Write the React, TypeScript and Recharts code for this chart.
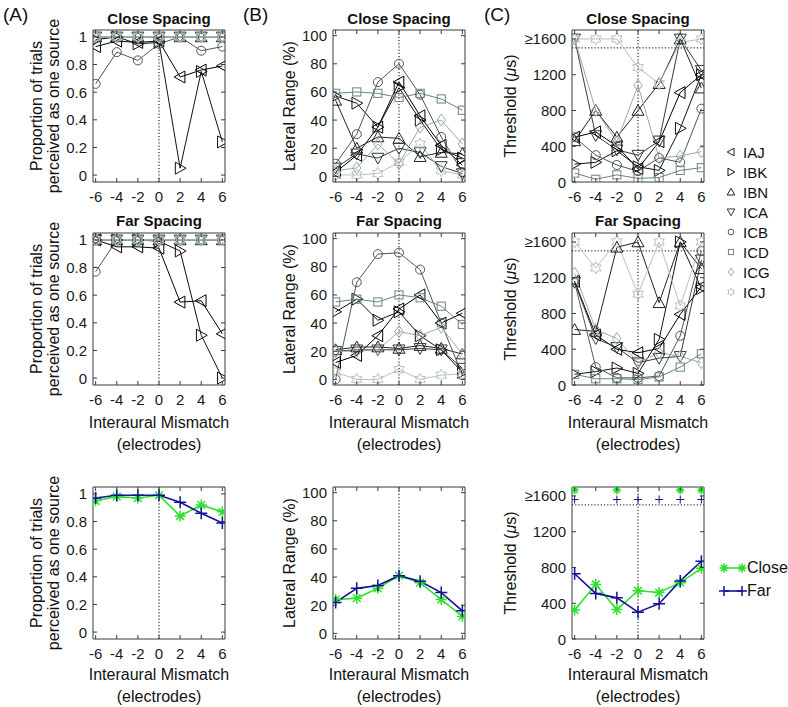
import React from 'react';
import { LineChart, Line, XAxis, YAxis, ReferenceLine } from 'recharts';

const FONT = '"Liberation Sans", Arial, Helvetica, sans-serif';

const mismatch = [-6, -4, -2, 0, 2, 4, 6];
const subjects = ['IAJ', 'IBK', 'IBN', 'ICA', 'ICB', 'ICD', 'ICG', 'ICJ'];
const subjectShapes = ['left', 'right', 'up', 'down', 'circle', 'square', 'diamond', 'hexagram'];
const subjectColors = ['#000000', '#111111', '#222222', '#333a3a', '#4e5656', '#6a8383', '#9ba8a8', '#b5c0c0'];

const propTicks = [0, 0.2, 0.4, 0.6, 0.8, 1];
const propTickLabels = ['0', '0.2', '0.4', '0.6', '0.8', '1'];
const rangeTicks = [0, 20, 40, 60, 80, 100];
const rangeTickLabels = ['0', '20', '40', '60', '80', '100'];
const threshTicks = [0, 400, 800, 1200, 1600];
const threshTickLabels = ['0', '400', '800', '1200', '\u22651600'];

// (A) proportion perceived as one source, per subject (IAJ..ICJ)
const propCloseBySubject = [
  [0.93, 0.97, 0.96, 0.97, 0.71, 0.76, 0.79],
  [0.98, 1, 0.95, 0.96, 0.05, 0.75, 0.24],
  [1, 1, 1, 1, 1, 1, 1],
  [1, 1, 1, 1, 1, 1, 1],
  [0.66, 0.89, 0.83, 0.95, 1, 0.9, 0.93],
  [1, 1, 1, 1, 1, 1, 1],
  [1, 1, 1, 1, 1, 1, 1],
  [1, 1, 1, 1, 1, 1, 1],
];
const propFarBySubject = [
  [1, 0.95, 0.95, 0.94, 0.55, 0.56, 0.32],
  [1, 1, 1, 0.99, 0.92, 0.31, 0.0],
  [1, 1, 1, 1, 1, 1, 1],
  [1, 1, 1, 1, 1, 1, 1],
  [0.77, 1, 1, 1, 1, 1, 1],
  [1, 1, 1, 1, 1, 1, 1],
  [1, 1, 1, 1, 1, 1, 1],
  [1, 1, 1, 1, 1, 1, 1],
];

// (B) lateral range (%)
const rangeCloseBySubject = [
  [3, 15, 35, 67, 43, 22, 8],
  [57, 52, 35, 63, 40, 19, 13],
  [54, 20, 28, 27, 14, 17, 16],
  [6, 16, 13, 20, 17, 7, 2],
  [9, 30, 67, 80, 58, 28, 3],
  [59, 60, 59, 56, 59, 55, 47],
  [4, 6, 23, 9, 35, 40, 23],
  [1, 1, 2, 10, 23, 4, 1],
];
const rangeFarBySubject = [
  [12, 17, 31, 50, 60, 40, 47],
  [48, 57, 42, 48, 31, 21, 5],
  [21, 23, 23, 22, 24, 22, 18],
  [20, 21, 21, 21, 22, 21, 8],
  [0, 69, 89, 90, 78, 40, 3],
  [55, 57, 55, 60, 58, 52, 39],
  [20, 20, 21, 34, 31, 37, 18],
  [5, 0, 0, 7, 0, 3, 4],
];

// (C) threshold (us), values >=1600 drawn at 1600
const threshCloseBySubject = [
  [500, 560, 400, 150, 450, 1000, 1200],
  [200, 220, 350, 170, 130, 600, 1200],
  [460, 800, 500, 800, 1100, 1600, 1050],
  [1600, 520, 360, 300, 460, 1600, 1250],
  [500, 300, 190, 120, 270, 220, 820],
  [100, 30, 80, 40, 50, 130, 160],
  [1600, 800, 450, 1080, 270, 290, 340],
  [1600, 1600, 1600, 1280, 1100, 1560, 1600],
];
const threshFarBySubject = [
  [1160, 560, 400, 360, 410, 790, 1100],
  [120, 150, 190, 130, 510, 1600, 1080],
  [620, 600, 1540, 1600, 920, 1600, 1300],
  [1150, 520, 420, 250, 300, 320, 1400],
  [1150, 200, 80, 80, 100, 550, 1500],
  [120, 70, 70, 60, 90, 200, 350],
  [1250, 620, 520, 250, 360, 320, 250],
  [1600, 1310, 1600, 1017, 1600, 885, 1600],
];

// bottom row: means
const propCloseMean = [0.95, 0.98, 0.97, 0.99, 0.84, 0.92, 0.87];
const propFarMean = [0.97, 0.99, 0.99, 0.99, 0.94, 0.86, 0.79];
const rangeCloseMean = [24, 25, 32, 41, 36, 24, 12];
const rangeFarMean = [22, 32, 34, 41, 37, 29, 16];
const threshCloseMean = [325, 610, 330, 540, 520, 630, 790];
const threshFarMean = [730, 510, 460, 300, 395, 650, 870];
const threshCloseCeil = [1665, null, 1665, null, null, 1665, 1665];
const threshFarCeil = [1560, null, 1560, 1560, 1560, 1560, 1560];

const GREEN = '#2fe02f';
const BLUE = '#12129c';
const BOXC = '#3a3a3a';

const buildRows = (bySubject: number[][]) =>
  mismatch.map((m, i) => {
    const r: any = { m };
    subjects.forEach((s, j) => { r[s] = bySubject[j][i]; });
    return r;
  });

const buildMeanRows = (close: number[], far: number[], closeCeil?: (number | null)[], farCeil?: (number | null)[]) =>
  mismatch.map((m, i) => ({
    m,
    close: close[i],
    far: far[i],
    closeCeil: closeCeil ? closeCeil[i] : null,
    farCeil: farCeil ? farCeil[i] : null,
  }));

function Marker({ shape, cx, cy, color, s = 5, sw = 1 }: any) {
  const c = { fill: 'none', stroke: color, strokeWidth: sw };
  switch (shape) {
    case 'left':
      return <polygon points={`${cx - s},${cy} ${cx + 0.8 * s},${cy - s} ${cx + 0.8 * s},${cy + s}`} {...c} />;
    case 'right':
      return <polygon points={`${cx + s},${cy} ${cx - 0.8 * s},${cy - s} ${cx - 0.8 * s},${cy + s}`} {...c} />;
    case 'up':
      return <polygon points={`${cx},${cy - s} ${cx - s},${cy + 0.8 * s} ${cx + s},${cy + 0.8 * s}`} {...c} />;
    case 'down':
      return <polygon points={`${cx},${cy + s} ${cx - s},${cy - 0.8 * s} ${cx + s},${cy - 0.8 * s}`} {...c} />;
    case 'circle':
      return <circle cx={cx} cy={cy} r={s * 0.75} {...c} />;
    case 'square':
      return <rect x={cx - 0.68 * s} y={cy - 0.68 * s} width={1.36 * s} height={1.36 * s} {...c} />;
    case 'diamond':
      return <polygon points={`${cx},${cy - s} ${cx + 0.7 * s},${cy} ${cx},${cy + s} ${cx - 0.7 * s},${cy}`} {...c} />;
    case 'hexagram': {
      const pts: string[] = [];
      for (let k = 0; k < 12; k++) {
        const a = ((-90 + 30 * k) * Math.PI) / 180;
        const r = k % 2 === 0 ? s : s / Math.sqrt(3);
        pts.push(`${cx + r * Math.cos(a)},${cy + r * Math.sin(a)}`);
      }
      return <polygon points={pts.join(' ')} {...c} />;
    }
    case 'plus':
      return <path d={`M${cx - s},${cy}H${cx + s}M${cx},${cy - s}V${cy + s}`} {...c} />;
    case 'asterisk': {
      const d = s * 0.7;
      return (
        <path
          d={`M${cx - s},${cy}H${cx + s}M${cx},${cy - s}V${cy + s}M${cx - d},${cy - d}L${cx + d},${cy + d}M${cx - d},${cy + d}L${cx + d},${cy - d}`}
          {...c}
        />
      );
    }
    default:
      return null;
  }
}

const BOX_W = 132;
const BOX_H = 152;
const M_L = 7, YW_L = 55;
const M_R = 7, YW_R = 5;
const M_T = 7, XH_T = 5;
const M_B = 5, XH_B = 25;
const ML = M_L + YW_L;
const MR = M_R + YW_R;
const MT = M_T + XH_T;
const MB = M_B + XH_B;
const X_DOMAIN: [number, number] = [-6.25, 6.25];

type SeriesDef = { key: string; color: string; shape: string; width?: number; s?: number; sw?: number; noLine?: boolean };

function Panel({ left, top, yDomain, yTicks, yLabels, data, series, hline }: any) {
  const tickStyle = { fontFamily: FONT, fontSize: 15, fill: '#1a1a1a' };
  const labelFor = (v: number) => {
    const i = yTicks.indexOf(v);
    return i >= 0 ? yLabels[i] : String(v);
  };
  return (
    <div style={{ position: 'absolute', left: left - ML, top: top - MT }}>
      <LineChart
        width={BOX_W + ML + MR}
        height={BOX_H + MT + MB}
        data={data}
        margin={{ top: M_T, right: M_R, bottom: M_B, left: M_L }}
      >
        <XAxis
          xAxisId="b"
          dataKey="m"
          type="number"
          domain={X_DOMAIN}
          allowDataOverflow
          ticks={mismatch}
          interval={0}
          height={XH_B}
          tickSize={0}
          tickMargin={0}
          axisLine={{ stroke: BOXC }}
          tickLine={false}
          tick={(p: any) => (
            <g>
              <line x1={p.x} x2={p.x} y1={p.y} y2={p.y - 4} stroke={BOXC} />
              <text x={p.x} y={p.y + 20} textAnchor="middle" {...tickStyle}>{String(p.payload.value)}</text>
            </g>
          )}
        />
        <XAxis
          xAxisId="t"
          orientation="top"
          dataKey="m"
          type="number"
          domain={X_DOMAIN}
          allowDataOverflow
          ticks={mismatch}
          interval={0}
          height={XH_T}
          tickSize={0}
          tickMargin={0}
          axisLine={{ stroke: BOXC }}
          tickLine={false}
          tick={(p: any) => <line x1={p.x} x2={p.x} y1={p.y} y2={p.y + 4} stroke={BOXC} />}
        />
        <YAxis
          yAxisId="l"
          type="number"
          domain={yDomain}
          allowDataOverflow
          ticks={yTicks}
          interval={0}
          width={YW_L}
          tickSize={0}
          tickMargin={0}
          axisLine={{ stroke: BOXC }}
          tickLine={false}
          tick={(p: any) => (
            <g>
              <line x1={p.x} x2={p.x + 4} y1={p.y} y2={p.y} stroke={BOXC} />
              <text x={p.x - 6} y={p.y + 5.5} textAnchor="end" {...tickStyle}>{labelFor(p.payload.value)}</text>
            </g>
          )}
        />
        <YAxis
          yAxisId="r"
          orientation="right"
          type="number"
          domain={yDomain}
          allowDataOverflow
          ticks={yTicks}
          interval={0}
          width={YW_R}
          tickSize={0}
          tickMargin={0}
          axisLine={{ stroke: BOXC }}
          tickLine={false}
          tick={(p: any) => <line x1={p.x} x2={p.x - 4} y1={p.y} y2={p.y} stroke={BOXC} />}
        />
        <ReferenceLine xAxisId="b" yAxisId="l" x={0} stroke="#000" strokeDasharray="1.2 2" strokeWidth={1} />
        {hline != null && (
          <ReferenceLine xAxisId="b" yAxisId="l" y={hline} stroke="#000" strokeDasharray="1.2 2" strokeWidth={1} />
        )}
        {series.map((sd: SeriesDef) => (
          <Line
            key={sd.key}
            xAxisId="b"
            yAxisId="l"
            type="linear"
            dataKey={sd.key}
            stroke={sd.noLine ? 'none' : sd.color}
            strokeWidth={sd.width ?? 1}
            isAnimationActive={false}
            connectNulls={false}
            activeDot={false}
            dot={(p: any) => {
              if (p.cx == null || p.cy == null || p.value == null || Number.isNaN(p.cy)) return <g key={`${sd.key}-${p.index}`} />;
              return (
                <g key={`${sd.key}-${p.index}`}>
                  <Marker shape={sd.shape} cx={p.cx} cy={p.cy} color={sd.color} s={sd.s ?? 6} sw={sd.sw ?? 1} />
                </g>
              );
            }}
          />
        ))}
      </LineChart>
    </div>
  );
}

const subjectSeries: SeriesDef[] = subjects.map((k, i) => ({ key: k, color: subjectColors[i], shape: subjectShapes[i] }));
const meanSeries: SeriesDef[] = [
  { key: 'close', color: GREEN, shape: 'asterisk', width: 1.6, s: 5.5, sw: 1.5 },
  { key: 'far', color: BLUE, shape: 'plus', width: 1.6, s: 6, sw: 1.5 },
];
const ceilSeries: SeriesDef[] = [
  { key: 'closeCeil', color: GREEN, shape: 'asterisk', noLine: true, s: 4, sw: 1.6 },
  { key: 'farCeil', color: BLUE, shape: 'plus', noLine: true, s: 4, sw: 1 },
];

const COL_LEFT = [93, 333, 572];
const ROW_TOP = [30, 233, 487];

const T = ({ x, y, children, size = 16, bold = false, anchor = 'middle', rotate = false }: any) => (
  <div
    style={{
      position: 'absolute',
      left: x,
      top: y,
      transform: `translate(${anchor === 'start' ? '0' : '-50%'}, -50%)${rotate ? ' rotate(-90deg)' : ''}`,
      fontFamily: FONT,
      fontSize: size,
      fontWeight: bold ? 700 : 400,
      whiteSpace: 'nowrap',
      lineHeight: 1,
      color: '#111',
    }}
  >
    {children}
  </div>
);

export default function App() {
  const propDom = [-0.05, 1.05];
  const rangeDom = [-4, 104];
  const threshDom = [0, 1700];
  const colCenter = COL_LEFT.map((l) => l + BOX_W / 2);
  return (
    <div style={{ position: 'absolute', left: 0, top: 0, width: 788, height: 707, background: '#fff', overflow: 'hidden' }}>
      <T x={3} y={14} size={19} anchor="start">(A)</T>
      <T x={243} y={14} size={19} anchor="start">(B)</T>
      <T x={484} y={14} size={19} anchor="start">(C)</T>

      {colCenter.map((cx, i) => (
        <T key={`tc${i}`} x={cx} y={18} size={15} bold>Close Spacing</T>
      ))}
      {colCenter.map((cx, i) => (
        <T key={`tf${i}`} x={cx} y={220} size={15} bold>Far Spacing</T>
      ))}

      {ROW_TOP.map((t, r) => (
        <React.Fragment key={`yl${r}`}>
          <T x={37} y={t + BOX_H / 2} rotate>Proportion of trials</T>
          <T x={54} y={t + BOX_H / 2} rotate>perceived as one source</T>
          <T x={290} y={t + BOX_H / 2} rotate>Lateral Range (%)</T>
          <T x={511} y={t + BOX_H / 2} rotate>Threshold (<i>μ</i>s)</T>
        </React.Fragment>
      ))}

      {colCenter.map((cx, i) => (
        <React.Fragment key={`xl${i}`}>
          <T x={cx} y={423}>Interaural Mismatch</T>
          <T x={cx} y={445}>(electrodes)</T>
          <T x={cx} y={675}>Interaural Mismatch</T>
          <T x={cx} y={697}>(electrodes)</T>
        </React.Fragment>
      ))}

      <Panel left={COL_LEFT[0]} top={ROW_TOP[0]} yDomain={propDom} yTicks={propTicks} yLabels={propTickLabels} data={buildRows(propCloseBySubject)} series={subjectSeries} />
      <Panel left={COL_LEFT[0]} top={ROW_TOP[1]} yDomain={propDom} yTicks={propTicks} yLabels={propTickLabels} data={buildRows(propFarBySubject)} series={subjectSeries} />
      <Panel left={COL_LEFT[0]} top={ROW_TOP[2]} yDomain={propDom} yTicks={propTicks} yLabels={propTickLabels} data={buildMeanRows(propCloseMean, propFarMean)} series={meanSeries} />

      <Panel left={COL_LEFT[1]} top={ROW_TOP[0]} yDomain={rangeDom} yTicks={rangeTicks} yLabels={rangeTickLabels} data={buildRows(rangeCloseBySubject)} series={subjectSeries} />
      <Panel left={COL_LEFT[1]} top={ROW_TOP[1]} yDomain={rangeDom} yTicks={rangeTicks} yLabels={rangeTickLabels} data={buildRows(rangeFarBySubject)} series={subjectSeries} />
      <Panel left={COL_LEFT[1]} top={ROW_TOP[2]} yDomain={rangeDom} yTicks={rangeTicks} yLabels={rangeTickLabels} data={buildMeanRows(rangeCloseMean, rangeFarMean)} series={meanSeries} />

      <Panel left={COL_LEFT[2]} top={ROW_TOP[0]} yDomain={threshDom} yTicks={threshTicks} yLabels={threshTickLabels} data={buildRows(threshCloseBySubject)} series={subjectSeries} hline={1500} />
      <Panel left={COL_LEFT[2]} top={ROW_TOP[1]} yDomain={threshDom} yTicks={threshTicks} yLabels={threshTickLabels} data={buildRows(threshFarBySubject)} series={subjectSeries} hline={1500} />
      <Panel left={COL_LEFT[2]} top={ROW_TOP[2]} yDomain={threshDom} yTicks={threshTicks} yLabels={threshTickLabels} data={buildMeanRows(threshCloseMean, threshFarMean, threshCloseCeil, threshFarCeil)} series={[...meanSeries, ...ceilSeries]} hline={1500} />

      <svg style={{ position: 'absolute', left: 720, top: 140 }} width={30} height={165}>
        {subjects.map((s, i) => (
          <Marker key={s} shape={subjectShapes[i]} cx={11} cy={12 + i * 20} color={subjectColors[i] === '#000000' ? '#222' : subjectColors[i]} s={3.8} sw={1} />
        ))}
      </svg>
      {subjects.map((s, i) => (
        <T key={`lg${s}`} x={743} y={152 + i * 20} size={15} anchor="start">{s}</T>
      ))}

      <svg style={{ position: 'absolute', left: 715, top: 555 }} width={35} height={50}>
        <line x1={9} x2={27} y1={13} y2={13} stroke={GREEN} strokeWidth={1.6} />
        <Marker shape="asterisk" cx={9} cy={13} color={GREEN} s={4.5} sw={1.5} />
        <Marker shape="asterisk" cx={27} cy={13} color={GREEN} s={4.5} sw={1.5} />
        <line x1={9} x2={27} y1={36} y2={36} stroke={BLUE} strokeWidth={1.6} />
        <Marker shape="plus" cx={9} cy={36} color={BLUE} s={5} sw={1.5} />
        <Marker shape="plus" cx={27} cy={36} color={BLUE} s={5} sw={1.5} />
      </svg>
      <T x={747} y={568} size={16} anchor="start">Close</T>
      <T x={747} y={591} size={16} anchor="start">Far</T>
    </div>
  );
}
